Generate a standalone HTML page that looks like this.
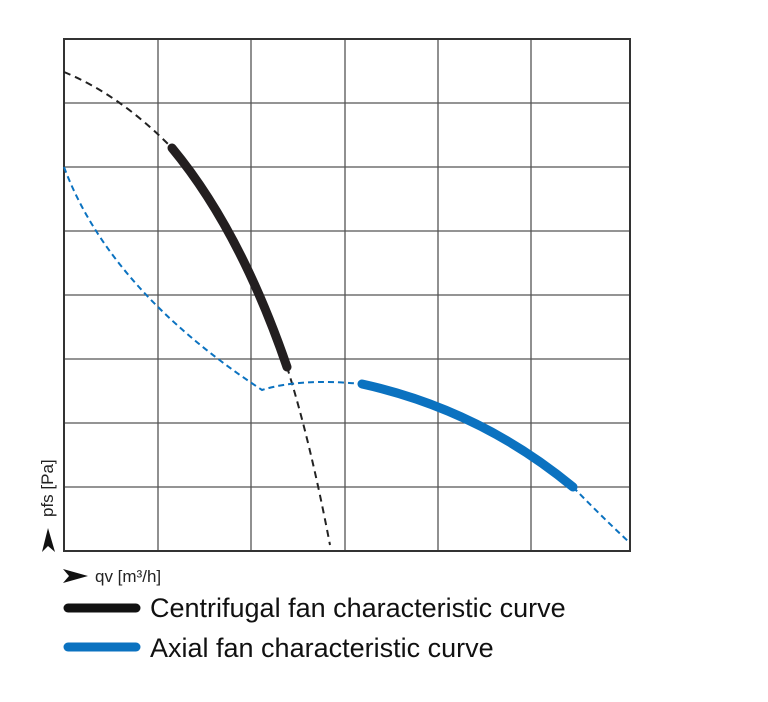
<!DOCTYPE html>
<html><head><style>body{margin:0;background:#fff}</style></head><body>
<svg width="768" height="697" xmlns="http://www.w3.org/2000/svg" font-family="Liberation Sans, sans-serif">
<g stroke="#555" stroke-width="1.3">
<line x1="158" y1="39" x2="158" y2="551"/><line x1="251" y1="39" x2="251" y2="551"/><line x1="345" y1="39" x2="345" y2="551"/><line x1="438" y1="39" x2="438" y2="551"/><line x1="531" y1="39" x2="531" y2="551"/>
<line x1="64" y1="103" x2="630" y2="103"/><line x1="64" y1="167" x2="630" y2="167"/><line x1="64" y1="231" x2="630" y2="231"/><line x1="64" y1="295" x2="630" y2="295"/><line x1="64" y1="359" x2="630" y2="359"/><line x1="64" y1="423" x2="630" y2="423"/><line x1="64" y1="487" x2="630" y2="487"/>
</g>
<rect x="64" y="39" width="566" height="512" fill="none" stroke="#333" stroke-width="2"/>
<path d="M64 72 Q120 95 172 148" fill="none" stroke="#222" stroke-width="2" stroke-dasharray="7,5"/>
<path d="M287 367 Q310 440 330 545" fill="none" stroke="#222" stroke-width="2" stroke-dasharray="7,5"/>
<path d="M172 148 Q240 230 287 367" fill="none" stroke="#231f20" stroke-width="9" stroke-linecap="round"/>
<path d="M64 167 Q110 290 262 390 Q300 378 362 384" fill="none" stroke="#0b72c0" stroke-width="2" stroke-dasharray="6,4"/>
<path d="M573 487 Q600 515 630 543" fill="none" stroke="#0b72c0" stroke-width="2" stroke-dasharray="6,4"/>
<path d="M362 384 Q480 410 573 487" fill="none" stroke="#0b72c0" stroke-width="9" stroke-linecap="round"/>
<path d="M42 552 L48 528 L55 552 L48 546 Z" fill="#111"/>
<text transform="translate(53,517) rotate(-90)" font-size="17" fill="#222">pfs [Pa]</text>
<path d="M63 569 L88 576 L63 583 L69 576 Z" fill="#111"/>
<text x="95" y="582" font-size="17" fill="#222">qv [m³/h]</text>
<line x1="68" y1="608" x2="136" y2="608" stroke="#111" stroke-width="9" stroke-linecap="round"/>
<text x="150" y="617" font-size="27" fill="#111">Centrifugal fan characteristic curve</text>
<line x1="68" y1="647" x2="136" y2="647" stroke="#0b72c0" stroke-width="9" stroke-linecap="round"/>
<text x="150" y="657" font-size="27" fill="#111">Axial fan characteristic curve</text>
</svg>
</body></html>
